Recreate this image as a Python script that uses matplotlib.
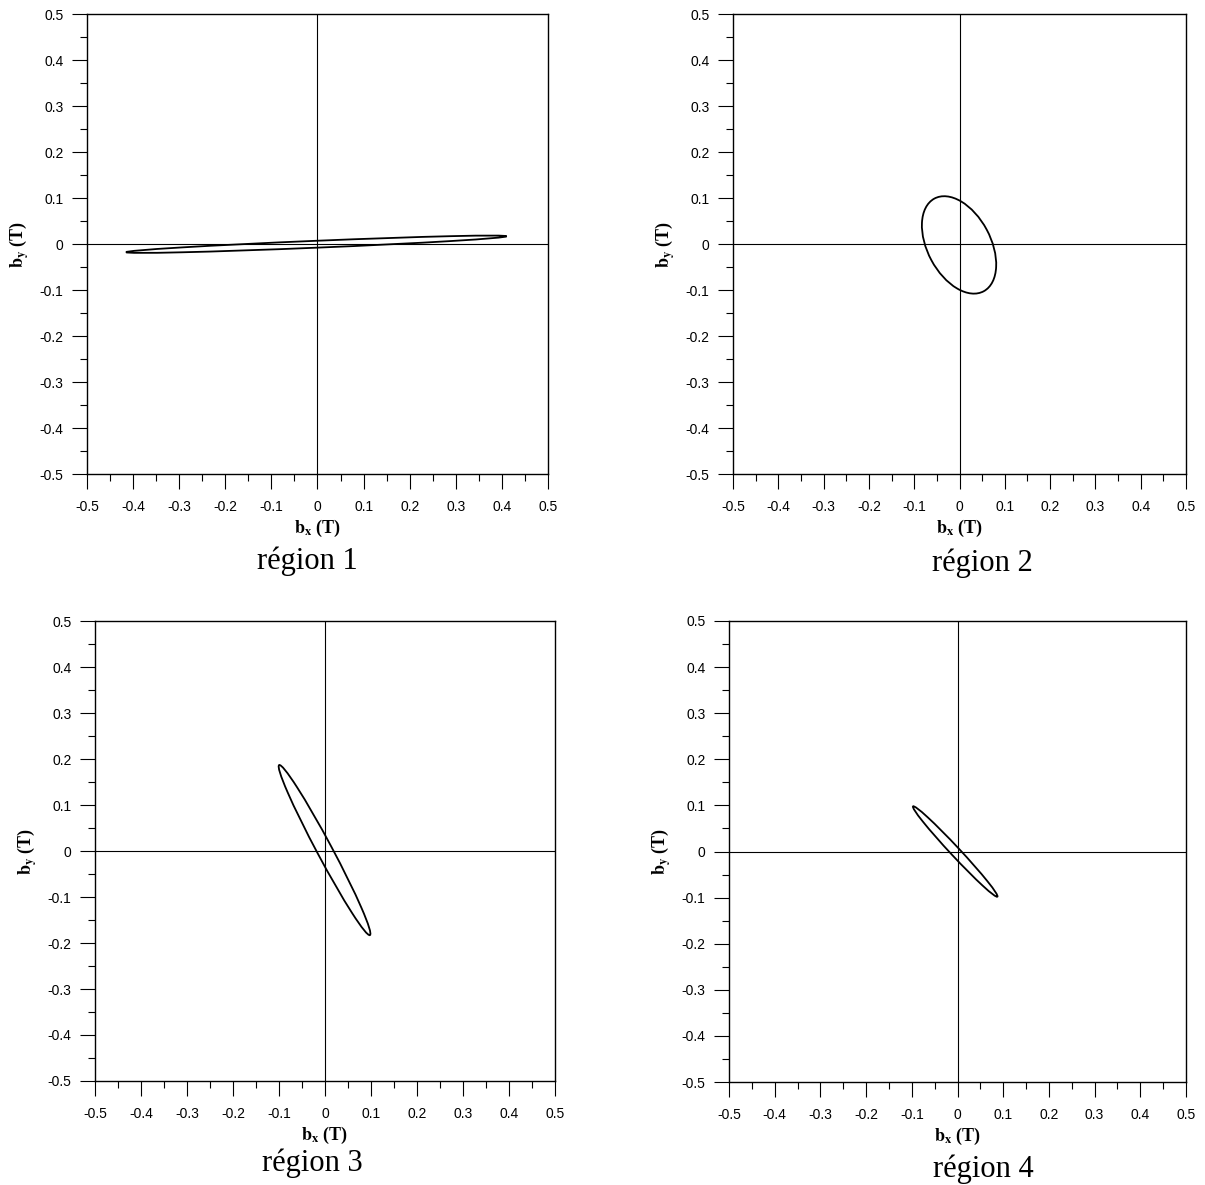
import matplotlib
matplotlib.use('Agg')
import matplotlib.pyplot as plt
from matplotlib.patches import Ellipse
from matplotlib.ticker import MultipleLocator

plt.rcParams['mathtext.fontset'] = 'stix'

# Données : une ellipse (lieu de b) par région
regions = ['région 1', 'région 2', 'région 3', 'région 4']
centre_x = [-0.0025, -0.001, -0.001, -0.005]
centre_y = [-0.0005, -0.002, 0.002, 0.0]
grand_axe = [0.826, 0.229, 0.419, 0.269]
petit_axe = [0.015, 0.139, 0.033, 0.020]
angle_deg = [2.4, -61.4, -61.9, -46.7]

# Graduations
ticks = [-0.5, -0.4, -0.3, -0.2, -0.1, 0, 0.1, 0.2, 0.3, 0.4, 0.5]
tick_labels = ['-0.5', '-0.4', '-0.3', '-0.2', '-0.1', '0', '0.1', '0.2', '0.3', '0.4', '0.5']

# Mise en page (pixels : gauche, haut, droite, bas)
W, H = 1205, 1185
boites = [(87, 14, 548, 474), (733, 14, 1186, 474),
          (95, 621, 555, 1081), (729, 621, 1186, 1082)]
legendes_xy = [(307, 569), (982, 571), (312, 1171), (983, 1177)]

fig = plt.figure(figsize=(W / 100, H / 100), dpi=100)

for i in range(4):
    g, h, d, b = boites[i]
    ax = fig.add_axes([g / W, 1 - b / H, (d - g) / W, (b - h) / H])

    ax.add_patch(Ellipse((centre_x[i], centre_y[i]), grand_axe[i], petit_axe[i],
                         angle=angle_deg[i], fill=False, edgecolor='black', lw=1.3))
    ax.axhline(0, color='black', lw=0.8)
    ax.axvline(0, color='black', lw=0.8)

    ax.set_xlim(-0.5, 0.5)
    ax.set_ylim(-0.5, 0.5)
    ax.set_xticks(ticks)
    ax.set_yticks(ticks)
    ax.set_xticklabels(tick_labels, fontfamily='Liberation Sans', fontsize=10)
    ax.set_yticklabels(tick_labels, fontfamily='Liberation Sans', fontsize=10)
    ax.xaxis.set_minor_locator(MultipleLocator(0.05))
    ax.yaxis.set_minor_locator(MultipleLocator(0.05))
    ax.tick_params(which='major', direction='out', length=11, width=0.8)
    ax.tick_params(which='minor', direction='out', length=5, width=0.8)
    ax.tick_params(axis='x', which='major', pad=8)
    ax.tick_params(axis='y', which='major', pad=6)
    for sp in ax.spines.values():
        sp.set_linewidth(1.0)

    ax.set_xlabel(r'$\mathbf{b}_{\mathbf{x}}$ (T)', fontfamily='Liberation Serif',
                  fontweight='bold', fontsize=13, va='center')
    ax.set_ylabel(r'$\mathbf{b}_{\mathbf{y}}$ (T)', fontfamily='Liberation Serif',
                  fontweight='bold', fontsize=13, va='center')
    ax.xaxis.set_label_coords(0.5, -0.118)
    ax.yaxis.set_label_coords(-68 / (d - g), 0.5)

    lx, ly = legendes_xy[i]
    fig.text(lx / W, 1 - ly / H, regions[i], ha='center', va='baseline',
             fontfamily='Liberation Serif', fontsize=22)

plt.savefig('out.png', dpi=100)
